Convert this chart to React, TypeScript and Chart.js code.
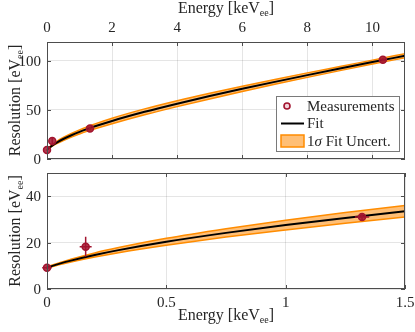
import React, { useEffect, useRef } from 'react';
import { Chart, registerables } from 'chart.js';
Chart.register(...registerables);

// ---- data ----
const measEnergy = [0, 0.162, 1.32, 10.32];
const measRes = [9.2, 18.2, 31.0, 101.0];
const measErrEnergy = [0.02, 0.025, 0.03, 0.06];
const measErrRes = [0.6, 4.3, 1.5, 1.5];

const fitEnergy = [0, 0.05, 0.1, 0.2, 0.3, 0.5, 0.75, 1, 1.25, 1.5, 2, 3, 4, 5, 6, 7, 8, 9, 10, 11];
const fitRes = [9.22, 10.83, 12.23, 14.66, 16.76, 20.36, 24.19, 27.57, 30.64, 33.49, 38.72, 47.98, 56.29, 64.03, 71.38, 78.45, 85.31, 92.0, 98.56, 105.02];
const fitUnc = [0.3, 0.4, 0.6, 0.9, 1.1, 1.5, 1.8, 2.1, 2.3, 2.5, 2.8, 3.0, 3.0, 2.9, 2.7, 2.5, 2.3, 2.1, 2.0, 2.1];

const topXTicks = [0, 2, 4, 6, 8, 10];
const topYTicks = [0, 50, 100];
const botXTicks = [0, 0.5, 1, 1.5];
const botYTicks = [0, 20, 40];
const topXRange = [0, 11];
const topYRange = [0, 119];
const botXRange = [0, 1.5];
const botYRange = [0, 50];

const xTitleMain = 'Energy [keV';
const yTitleMain = 'Resolution [eV';
const titleSub = 'ee';
const titleEnd = ']';
const legendLabels = ['Measurements', 'Fit', 'Fit Uncert.'];

// ---- styles ----
const SERIF = '"Liberation Serif", "Times New Roman", serif';
const TXT = '#262626';
const RED = '#A2142F';
const ORANGE = 'rgb(255,140,0)';
const ORANGE_FILL = 'rgb(255,191,118)';
const GRID = 'rgba(38,38,38,0.12)';

function drawTitle(ctx: CanvasRenderingContext2D, x: number, y: number, main: string, rotate: boolean) {
  ctx.save();
  ctx.fillStyle = TXT;
  ctx.textBaseline = 'alphabetic';
  ctx.textAlign = 'left';
  const big = `16px ${SERIF}`;
  const small = `10px ${SERIF}`;
  ctx.font = big;
  const w1 = ctx.measureText(main).width;
  const w3 = ctx.measureText(titleEnd).width;
  ctx.font = small;
  const w2 = ctx.measureText(titleSub).width;
  const total = w1 + w2 + w3;
  ctx.translate(x, y);
  if (rotate) ctx.rotate(-Math.PI / 2);
  let cx = -total / 2;
  ctx.font = big;
  ctx.fillText(main, cx, 0);
  cx += w1;
  ctx.font = small;
  ctx.fillText(titleSub, cx, 3);
  cx += w2;
  ctx.font = big;
  ctx.fillText(titleEnd, cx, 0);
  ctx.restore();
}

type DecorCfg = {
  xTicks: number[];
  yTicks: number[];
  xTop: boolean;
  legend: boolean;
};

function makeDecor(cfg: DecorCfg) {
  return {
    id: 'decor',
    afterDatasetDraw(chart: any, args: any) {
      if (args.index !== 1) return;
      const { ctx, chartArea: ca, scales } = chart;
      const xs = scales.x, ys = scales.y;
      ctx.save();
      ctx.beginPath();
      ctx.rect(ca.left - 8, ca.top, ca.right - ca.left + 8, ca.bottom - ca.top);
      ctx.clip();
      ctx.strokeStyle = RED;
      ctx.lineWidth = 1.5;
      measEnergy.forEach((e, i) => {
        const px = xs.getPixelForValue(e);
        const py = ys.getPixelForValue(measRes[i]);
        ctx.beginPath();
        ctx.moveTo(px, ys.getPixelForValue(measRes[i] - measErrRes[i]));
        ctx.lineTo(px, ys.getPixelForValue(measRes[i] + measErrRes[i]));
        ctx.moveTo(xs.getPixelForValue(e - measErrEnergy[i]), py);
        ctx.lineTo(xs.getPixelForValue(e + measErrEnergy[i]), py);
        ctx.stroke();
      });
      ctx.restore();
    },
    afterDraw(chart: any) {
      const { ctx, chartArea: ca, scales } = chart;
      const xs = scales.x, ys = scales.y;
      ctx.save();
      // frame
      ctx.strokeStyle = '#4d4d4d';
      ctx.lineWidth = 1;
      ctx.strokeRect(ca.left + 0.5, ca.top + 0.5, ca.right - ca.left - 1, ca.bottom - ca.top - 1);
      // inward ticks on all sides
      const tl = 4;
      ctx.beginPath();
      cfg.xTicks.forEach((v) => {
        const px = Math.round(xs.getPixelForValue(v)) + 0.5;
        ctx.moveTo(px, ca.top);
        ctx.lineTo(px, ca.top + tl);
        ctx.moveTo(px, ca.bottom);
        ctx.lineTo(px, ca.bottom - tl);
      });
      cfg.yTicks.forEach((v) => {
        const py = Math.round(ys.getPixelForValue(v)) + 0.5;
        ctx.moveTo(ca.left, py);
        ctx.lineTo(ca.left + tl, py);
        ctx.moveTo(ca.right, py);
        ctx.lineTo(ca.right - tl, py);
      });
      ctx.stroke();
      // tick labels
      ctx.fillStyle = TXT;
      ctx.font = `15px ${SERIF}`;
      ctx.textBaseline = 'alphabetic';
      ctx.textAlign = 'center';
      cfg.xTicks.forEach((v) => {
        const px = xs.getPixelForValue(v);
        const y = cfg.xTop ? ca.top - 10 : ca.bottom + 18;
        ctx.fillText(String(v), px, y);
      });
      ctx.textAlign = 'right';
      cfg.yTicks.forEach((v) => {
        const py = ys.getPixelForValue(v);
        ctx.fillText(String(v), ca.left - 6, py + 5);
      });
      // axis titles
      const cxm = (ca.left + ca.right) / 2;
      const cym = (ca.top + ca.bottom) / 2;
      drawTitle(ctx, cxm, cfg.xTop ? ca.top - 29 : ca.bottom + 31, xTitleMain, false);
      drawTitle(ctx, 20, cym, yTitleMain, true);
      // legend
      if (cfg.legend) {
        const W = 123, H = 55;
        const L = ca.right - 6 - W, T = ca.bottom - 8 - H;
        ctx.fillStyle = '#ffffff';
        ctx.fillRect(L, T, W, H);
        ctx.strokeStyle = '#7a7a7a';
        ctx.lineWidth = 1;
        ctx.strokeRect(Math.round(L) + 0.5, Math.round(T) + 0.5, W, H);
        // marker
        ctx.beginPath();
        ctx.arc(L + 11, T + 10, 3, 0, Math.PI * 2);
        ctx.fillStyle = '#f3d3da';
        ctx.fill();
        ctx.strokeStyle = RED;
        ctx.lineWidth = 1.6;
        ctx.stroke();
        // fit line
        ctx.beginPath();
        ctx.moveTo(L + 5, T + 27.5);
        ctx.lineTo(L + 28, T + 27.5);
        ctx.strokeStyle = '#000';
        ctx.lineWidth = 2;
        ctx.stroke();
        // band patch
        ctx.fillStyle = ORANGE_FILL;
        ctx.fillRect(L + 5, T + 39, 23, 12);
        ctx.strokeStyle = ORANGE;
        ctx.lineWidth = 1.5;
        ctx.strokeRect(L + 5, T + 39, 23, 12);
        // texts
        ctx.fillStyle = TXT;
        ctx.textAlign = 'left';
        ctx.font = `15px ${SERIF}`;
        ctx.fillText(legendLabels[0], L + 31, T + 15);
        ctx.fillText(legendLabels[1], L + 31, T + 32);
        const t3x = L + 31;
        ctx.fillText('1', t3x, T + 50);
        const w1 = ctx.measureText('1').width;
        ctx.font = `italic 15px ${SERIF}`;
        ctx.fillText('σ', t3x + w1, T + 50);
        const ws = ctx.measureText('σ ').width;
        ctx.font = `15px ${SERIF}`;
        ctx.fillText(legendLabels[2], t3x + w1 + ws, T + 50);
      }
      ctx.restore();
    },
  };
}

function buildDatasets() {
  const meas = measEnergy.map((e, i) => ({ x: e, y: measRes[i] }));
  const fit = fitEnergy.map((e, i) => ({ x: e, y: fitRes[i] }));
  const lo = fitEnergy.map((e, i) => ({ x: e, y: fitRes[i] - fitUnc[i] }));
  const hi = fitEnergy.map((e, i) => ({ x: e, y: fitRes[i] + fitUnc[i] }));
  return [
    {
      label: 'Measurements',
      data: meas,
      showLine: false,
      pointRadius: 3.5,
      pointBorderWidth: 1.5,
      pointBorderColor: RED,
      pointBackgroundColor: 'rgba(162,20,47,0.85)',
      clip: { left: 8, top: 0, right: 0, bottom: 0 },
    },
    {
      label: 'Fit',
      data: fit,
      borderColor: '#000',
      borderWidth: 2,
      pointRadius: 0,
      cubicInterpolationMode: 'monotone',
      fill: false,
    },
    {
      label: 'lo',
      data: lo,
      borderColor: ORANGE,
      borderWidth: 1.5,
      pointRadius: 0,
      cubicInterpolationMode: 'monotone',
      fill: false,
    },
    {
      label: 'hi',
      data: hi,
      borderColor: ORANGE,
      backgroundColor: ORANGE_FILL,
      borderWidth: 1.5,
      pointRadius: 0,
      cubicInterpolationMode: 'monotone',
      fill: '-1',
    },
  ];
}

function makeConfig(opts: {
  xRange: number[]; yRange: number[]; xTicks: number[]; yTicks: number[];
  xTop: boolean; xHeight: number; padding: any; legend: boolean;
}) {
  return {
    type: 'line',
    data: { datasets: buildDatasets() },
    options: {
      animation: false,
      responsive: true,
      maintainAspectRatio: false,
      events: [],
      layout: { padding: opts.padding, autoPadding: false },
      plugins: { legend: { display: false }, tooltip: { enabled: false } },
      scales: {
        x: {
          type: 'linear',
          position: opts.xTop ? 'top' : 'bottom',
          min: opts.xRange[0],
          max: opts.xRange[1],
          afterBuildTicks: (s: any) => { s.ticks = opts.xTicks.map((v) => ({ value: v })); },
          afterFit: (s: any) => { s.height = opts.xHeight; },
          ticks: { display: false },
          grid: { color: GRID, drawTicks: false, lineWidth: 1 },
          border: { display: false },
        },
        y: {
          type: 'linear',
          position: 'left',
          min: opts.yRange[0],
          max: opts.yRange[1],
          afterBuildTicks: (s: any) => { s.ticks = opts.yTicks.map((v) => ({ value: v })); },
          afterFit: (s: any) => { s.width = 47; },
          ticks: { display: false },
          grid: { color: GRID, drawTicks: false, lineWidth: 1 },
          border: { display: false },
        },
      },
    },
    plugins: [makeDecor({ xTicks: opts.xTicks, yTicks: opts.yTicks, xTop: opts.xTop, legend: opts.legend })],
  };
}

export default function App() {
  const topRef = useRef<HTMLCanvasElement | null>(null);
  const botRef = useRef<HTMLCanvasElement | null>(null);

  useEffect(() => {
    const top = new Chart(topRef.current as HTMLCanvasElement, makeConfig({
      xRange: topXRange, yRange: topYRange, xTicks: topXTicks, yTicks: topYTicks,
      xTop: true, xHeight: 42, padding: { left: 0, top: 0, right: 10, bottom: 7 }, legend: true,
    }) as any);
    const bot = new Chart(botRef.current as HTMLCanvasElement, makeConfig({
      xRange: botXRange, yRange: botYRange, xTicks: botXTicks, yTicks: botYTicks,
      xTop: false, xHeight: 43, padding: { left: 0, top: 7, right: 10, bottom: 0 }, legend: false,
    }) as any);
    return () => { top.destroy(); bot.destroy(); };
  }, []);

  return (
    <div style={{ position: 'fixed', left: 0, top: 0, width: 415, height: 332, background: '#fff' }}>
      <div style={{ position: 'absolute', left: 0, top: 0, width: 415, height: 166 }}>
        <canvas ref={topRef} />
      </div>
      <div style={{ position: 'absolute', left: 0, top: 166, width: 415, height: 166 }}>
        <canvas ref={botRef} />
      </div>
    </div>
  );
}
